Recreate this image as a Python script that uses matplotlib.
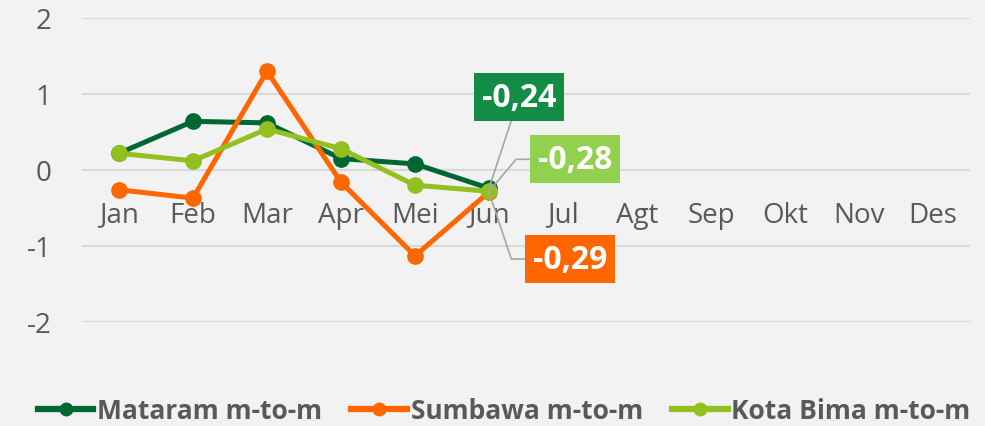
import matplotlib
matplotlib.use("Agg")
import matplotlib.pyplot as plt
from matplotlib import font_manager as fm

months = ["Jan", "Feb", "Mar", "Apr", "Mei", "Jun", "Jul", "Agt", "Sep", "Okt", "Nov", "Des"]
mataram = [0.22, 0.64, 0.62, 0.15, 0.08, -0.24]
sumbawa = [-0.26, -0.37, 1.30, -0.16, -1.13, -0.29]
kota_bima = [0.22, 0.12, 0.54, 0.28, -0.20, -0.28]
series_names = ["Mataram m-to-m", "Sumbawa m-to-m", "Kota Bima m-to-m"]
yticks = [-2, -1, 0, 1, 2]

c_mat = "#006633"
c_sum = "#FF6600"
c_bim = "#92C01F"
box_mat = "#138D45"
box_sum = "#FF6600"
box_bim = "#92D050"
txt_gray = "#595959"
bg = "#F2F2F2"

names = {f.name for f in fm.fontManager.ttflist}
base_font = "Open Sans" if "Open Sans" in names else "DejaVu Sans"

fig = plt.figure(figsize=(9.85, 4.27), dpi=100, facecolor=bg)
ax = fig.add_axes([82/985, 1-323/427, (970-82)/985, (323-19)/427])
ax.set_facecolor(bg)

x = list(range(len(months)))
lw = 3.6
ms = 11
l1, = ax.plot(x[:len(mataram)], mataram, color=c_mat, lw=lw, marker="o", ms=ms, zorder=3, label=series_names[0])
l2, = ax.plot(x[:len(sumbawa)], sumbawa, color=c_sum, lw=lw, marker="o", ms=ms, zorder=4, label=series_names[1])
l3, = ax.plot(x[:len(kota_bima)], kota_bima, color=c_bim, lw=lw, marker="o", ms=ms, zorder=5, label=series_names[2])

ax.set_xlim(-0.5, len(months) - 0.5)
ax.set_ylim(-2, 2)
ax.set_yticks(yticks)
ax.set_yticklabels([str(v) for v in yticks])
ax.set_xticks(x)
ax.set_xticklabels(months)
ax.grid(axis="y", color="#D9D9D9", lw=1.5, zorder=0)
ax.set_axisbelow(True)
for s in ax.spines.values():
    s.set_visible(False)
ax.spines["bottom"].set_position(("data", 0))
ax.tick_params(axis="x", length=0, pad=22, labelsize=20, labelcolor=txt_gray)
ax.tick_params(axis="y", length=0, pad=22, labelsize=20, labelcolor=txt_gray)
for lab in ax.get_xticklabels() + ax.get_yticklabels():
    lab.set_fontfamily(base_font)

def label(val, color, dx, dy, conn):
    ax.annotate(f"{val:.2f}".replace(".", ","), xy=(len(mataram) - 1, val),
                xytext=(dx, dy), textcoords="offset pixels",
                ha="center", va="center", fontsize=23, fontweight="bold",
                fontfamily=base_font, color="white",
                bbox=dict(boxstyle="square,pad=0.24", fc=color, ec="none"),
                arrowprops=dict(arrowstyle="-", color="#A6A6A6", lw=1.2,
                                shrinkA=0, shrinkB=0, connectionstyle=conn),
                zorder=6)

label(mataram[-1], box_mat, 30, 91, "arc3")
label(kota_bima[-1], box_bim, 86, 32, "angle,angleA=0,angleB=49.7")
label(sumbawa[-1], box_sum, 81, -67, "angle,angleA=0,angleB=-71.6")

leg = fig.legend(handles=[l1, l2, l3], loc="center", bbox_to_anchor=(0.512, 1-412/427),
                 ncol=3, frameon=False, handlelength=2.1, columnspacing=1.1, handletextpad=0.15,
                 prop=dict(family=base_font, weight="bold", size=19), labelcolor=txt_gray)
for h in leg.legend_handles:
    h.set_markersize(9)
    h.set_linewidth(4.5)

fig.savefig("out.png", dpi=100, facecolor=bg)
